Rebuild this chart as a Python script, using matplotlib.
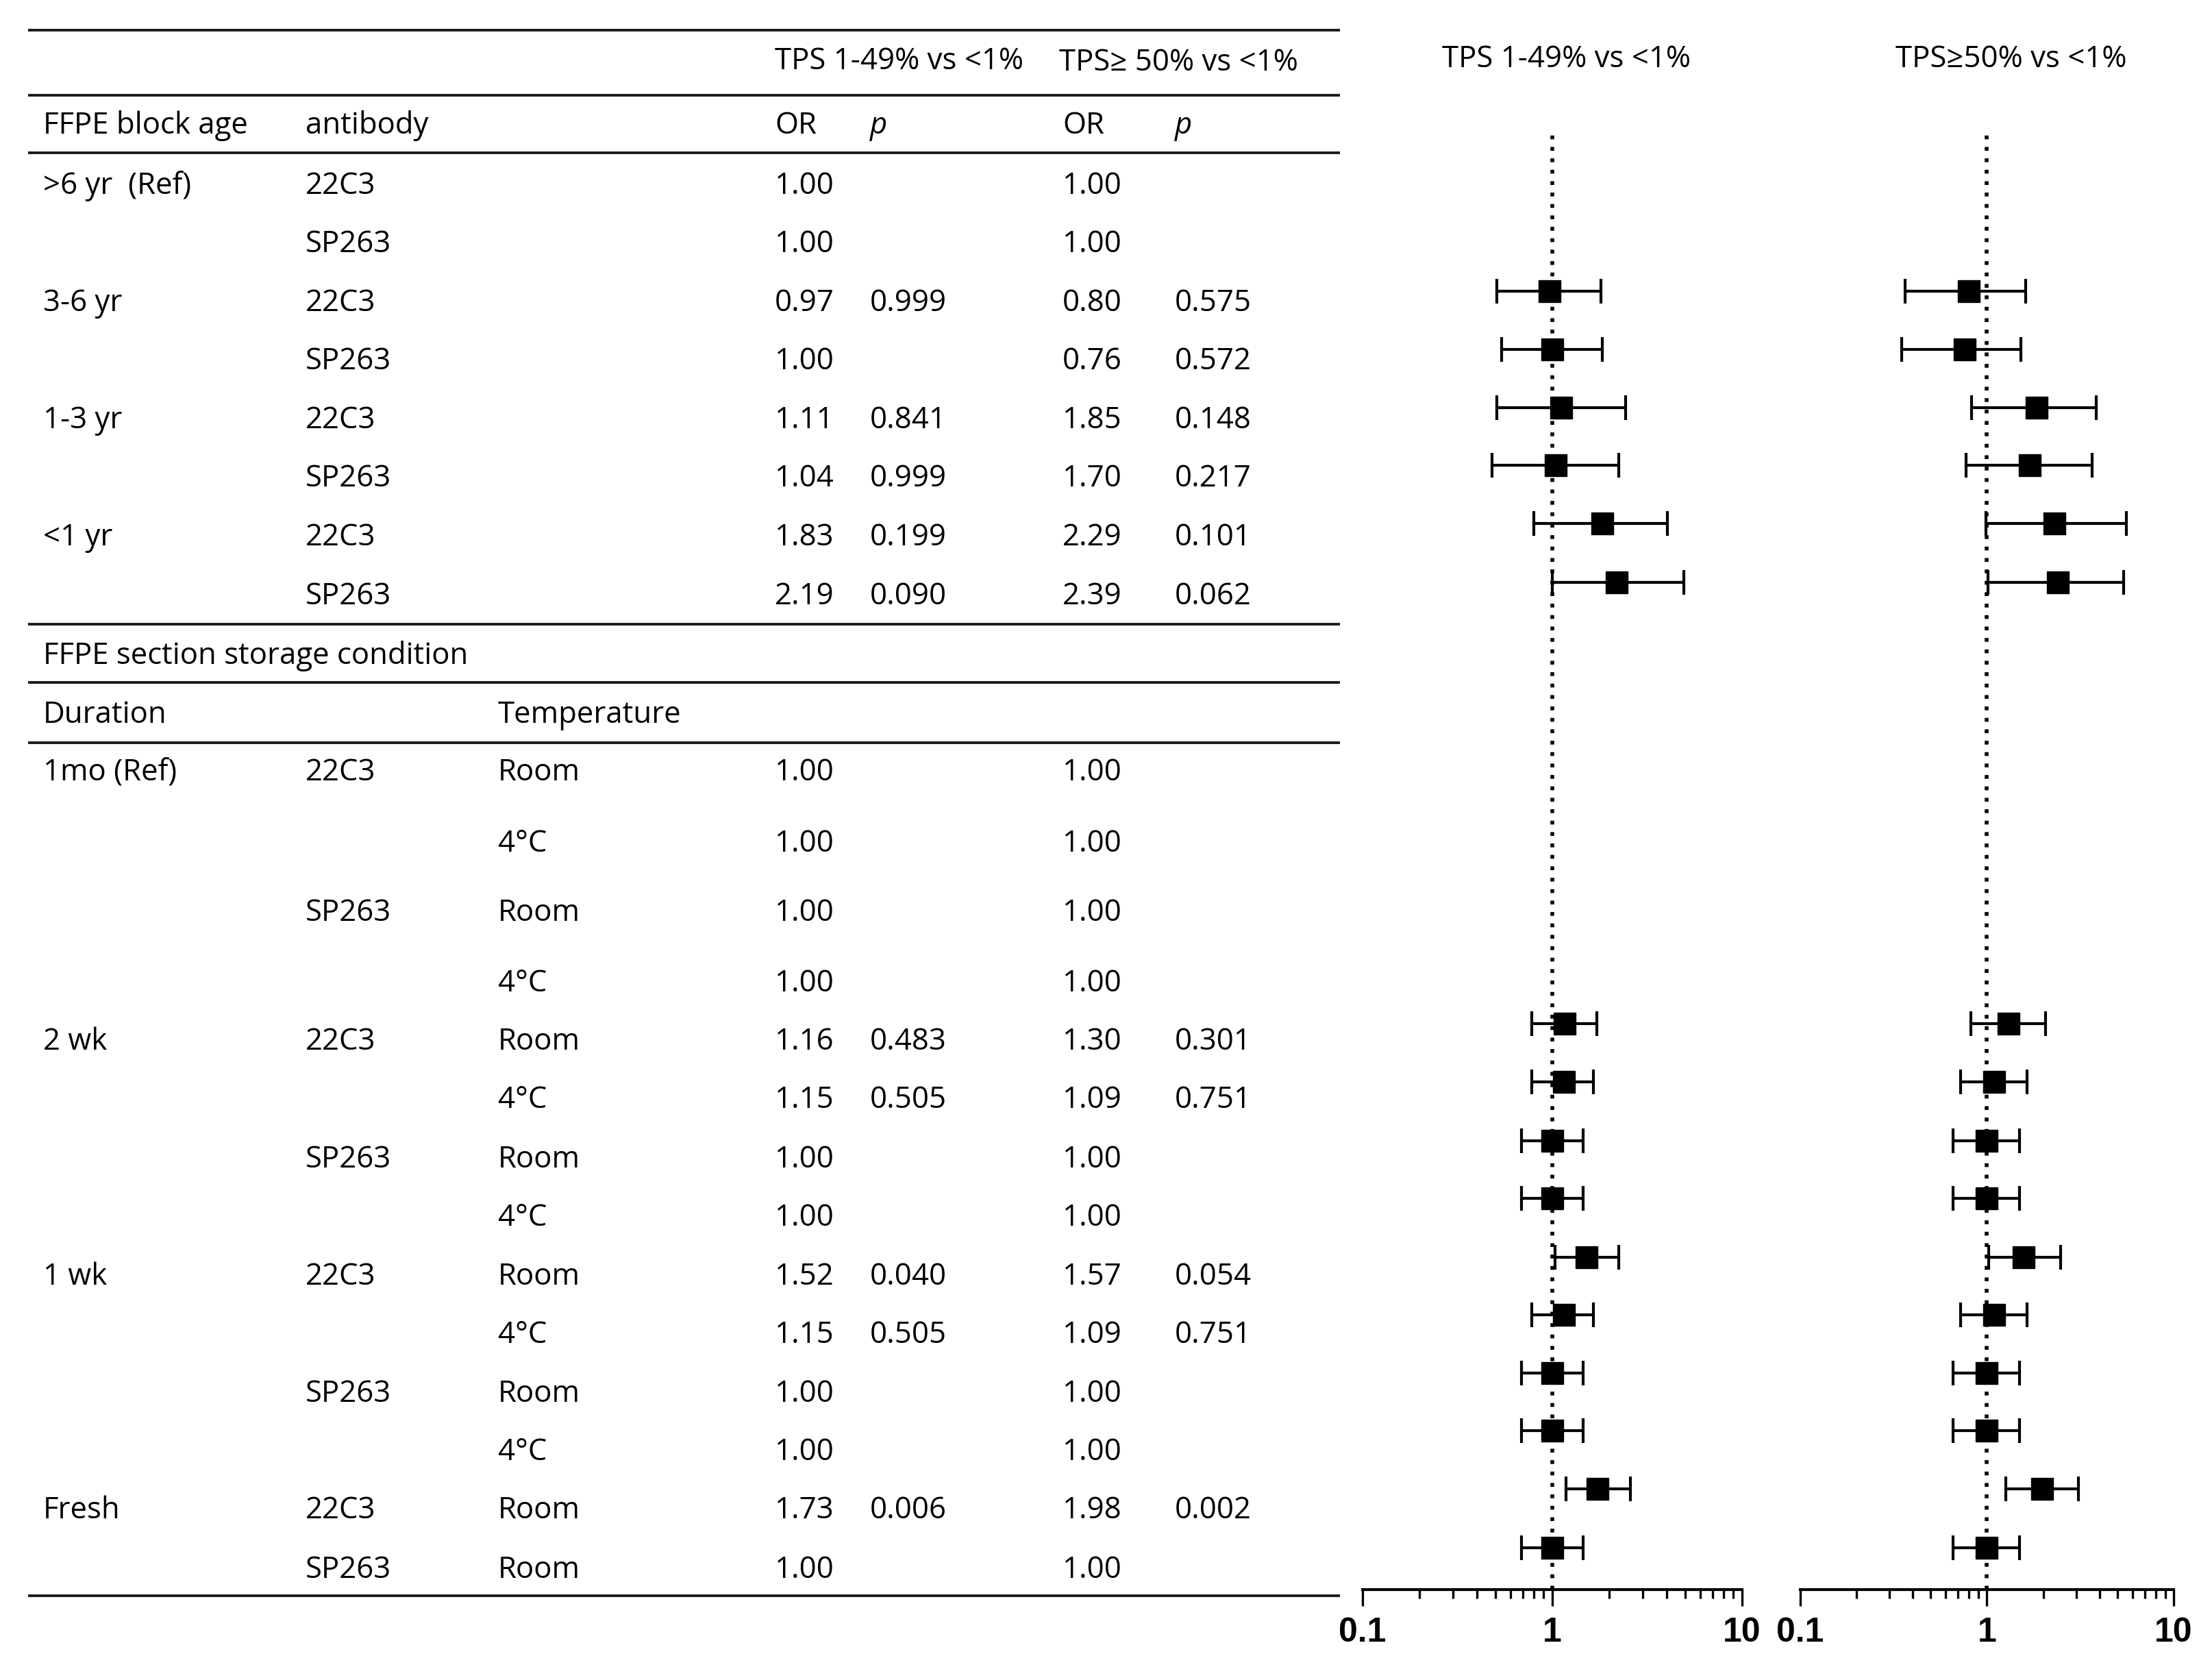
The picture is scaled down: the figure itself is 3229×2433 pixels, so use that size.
import numpy as np
import matplotlib
matplotlib.use("Agg")
import matplotlib.pyplot as plt
from matplotlib.ticker import FixedLocator, FixedFormatter, LogLocator, NullFormatter

plt.rcParams['font.family'] = ['Open Sans', 'DejaVu Sans']

# ---- data: FFPE block age ----
age_group = [">6 yr  (Ref)", "", "3-6 yr", "", "1-3 yr", "", "<1 yr", ""]
age_ab = ["22C3", "SP263", "22C3", "SP263", "22C3", "SP263", "22C3", "SP263"]
age_or1 = [1.00, 1.00, 0.97, 1.00, 1.11, 1.04, 1.83, 2.19]
age_p1 = ["", "", "0.999", "", "0.841", "0.999", "0.199", "0.090"]
age_or2 = [1.00, 1.00, 0.80, 0.76, 1.85, 1.70, 2.29, 2.39]
age_p2 = ["", "", "0.575", "0.572", "0.148", "0.217", "0.101", "0.062"]
age_lo1 = [np.nan, np.nan, 0.51, 0.54, 0.51, 0.48, 0.80, 1.00]
age_hi1 = [np.nan, np.nan, 1.80, 1.83, 2.44, 2.24, 4.05, 4.93]
age_lo2 = [np.nan, np.nan, 0.365, 0.35, 0.83, 0.77, 0.99, 1.01]
age_hi2 = [np.nan, np.nan, 1.61, 1.52, 3.84, 3.66, 5.6, 5.4]

# ---- data: FFPE section storage condition ----
st_dur = ["1mo (Ref)", "", "", "", "2 wk", "", "", "", "1 wk", "", "", "", "Fresh", ""]
st_ab = ["22C3", "", "SP263", "", "22C3", "", "SP263", "", "22C3", "", "SP263", "", "22C3", "SP263"]
st_temp = ["Room", "4°C", "Room", "4°C", "Room", "4°C", "Room", "4°C",
           "Room", "4°C", "Room", "4°C", "Room", "Room"]
st_or1 = [1.00, 1.00, 1.00, 1.00, 1.16, 1.15, 1.00, 1.00, 1.52, 1.15, 1.00, 1.00, 1.73, 1.00]
st_p1 = ["", "", "", "", "0.483", "0.505", "", "", "0.040", "0.505", "", "", "0.006", ""]
st_or2 = [1.00, 1.00, 1.00, 1.00, 1.30, 1.09, 1.00, 1.00, 1.57, 1.09, 1.00, 1.00, 1.98, 1.00]
st_p2 = ["", "", "", "", "0.301", "0.751", "", "", "0.054", "0.751", "", "", "0.002", ""]
st_lo1 = [np.nan] * 4 + [0.78, 0.78, 0.69, 0.69, 1.03, 0.78, 0.69, 0.69, 1.18, 0.69]
st_hi1 = [np.nan] * 4 + [1.71, 1.65, 1.45, 1.45, 2.24, 1.65, 1.45, 1.45, 2.57, 1.45]
st_lo2 = [np.nan] * 4 + [0.82, 0.72, 0.66, 0.66, 1.02, 0.72, 0.66, 0.66, 1.26, 0.66]
st_hi2 = [np.nan] * 4 + [2.06, 1.64, 1.50, 1.50, 2.47, 1.64, 1.50, 1.50, 3.10, 1.50]

titles = ["TPS 1-49% vs <1%", "TPS\u226550% vs <1%"]
tick_vals = [0.1, 1, 10]
tick_text = ["0.1", "1", "10"]

# ---- layout (pixel coordinates of the 3230x2433 canvas) ----
W, H = 3230, 2433
age_y = [272, 357, 443, 528, 614, 699, 785, 871]
st_y = [1128, 1232, 1333, 1436, 1521, 1606, 1693, 1778, 1864, 1949, 2035, 2120, 2205, 2292]
col_x = [63, 446, 727, 1131, 1270, 1551, 1715]
rule_y = [44, 139, 223, 911, 996, 1084, 2329]
FS = 31.5

fig = plt.figure(figsize=(W / 100, H / 100), dpi=100)
tab = fig.add_axes([0, 0, 1, 1])
tab.set_xlim(0, W)
tab.set_ylim(H, 0)
tab.axis('off')

tab.hlines(rule_y, 41, 1956, color='#1a1a1a', lw=2.8)


def txt(x, y, s, **kw):
    tab.text(x, y, s, fontsize=FS, va='center', ha='left', **kw)


# header
txt(col_x[3], 90, "TPS 1-49% vs <1%")
txt(col_x[5] - 5, 92, "TPS\u2265 50% vs <1%")
txt(col_x[0], 184, "FFPE block age")
txt(col_x[1], 184, "antibody")
txt(col_x[3], 184, "OR")
txt(col_x[4], 184, "p", style='italic')
txt(col_x[5], 184, "OR")
txt(col_x[6], 184, "p", style='italic')

for i, y in enumerate(age_y):
    txt(col_x[0], y, age_group[i])
    txt(col_x[1], y, age_ab[i])
    txt(col_x[3], y, "%.2f" % age_or1[i])
    txt(col_x[4], y, age_p1[i])
    txt(col_x[5], y, "%.2f" % age_or2[i])
    txt(col_x[6], y, age_p2[i])

txt(col_x[0], 957, "FFPE section storage condition")
txt(col_x[0], 1044, "Duration")
txt(col_x[2], 1044, "Temperature")

for i, y in enumerate(st_y):
    txt(col_x[0], y, st_dur[i])
    txt(col_x[1], y, st_ab[i])
    txt(col_x[2], y, st_temp[i])
    txt(col_x[3], y, "%.2f" % st_or1[i])
    txt(col_x[4], y, st_p1[i])
    txt(col_x[5], y, "%.2f" % st_or2[i])
    txt(col_x[6], y, st_p2[i])

# ---- forest plots ----
rows_y = np.array(age_y + st_y, dtype=float)
series = [
    (np.array(age_or1 + st_or1), np.array(age_lo1 + st_lo1), np.array(age_hi1 + st_hi1)),
    (np.array(age_or2 + st_or2), np.array(age_lo2 + st_lo2), np.array(age_hi2 + st_hi2)),
]
panels = [(1989, 2543), (2628, 3173)]
title_x = [2287, 2936]
axis_px = 2320
# the plotted rows sit a little higher than the table text in the original
sc, off = 0.9917, -14

for k, (x0, x1) in enumerate(panels):
    ax = fig.add_axes([x0 / W, 0, (x1 - x0) / W, 1])
    ax.set_xscale('log')
    ax.set_xlim(0.1, 10)
    ax.set_ylim((H - off) / sc, -off / sc)
    ax.patch.set_alpha(0)
    for s in ['top', 'left', 'right']:
        ax.spines[s].set_visible(False)
    ax.spines['bottom'].set_position(('axes', 1 - axis_px / H))
    ax.spines['bottom'].set_linewidth(3)
    ax.yaxis.set_visible(False)
    ax.xaxis.set_major_locator(FixedLocator(tick_vals))
    ax.xaxis.set_major_formatter(FixedFormatter(tick_text))
    ax.xaxis.set_minor_locator(LogLocator(base=10, subs=np.arange(2, 10)))
    ax.xaxis.set_minor_formatter(NullFormatter())
    ax.tick_params(axis='x', which='major', length=17, width=2.4, pad=12,
                   labelsize=36, direction='out')
    ax.tick_params(axis='x', which='minor', length=9, width=2.4, direction='out')
    for lab in ax.get_xticklabels():
        lab.set_fontfamily(['Liberation Sans', 'DejaVu Sans'])
        lab.set_fontweight('bold')

    ax.axvline(1, ymin=1 - axis_px / H, ymax=1 - 190 / H, color='black',
               lw=4, ls=(0, (1, 2)))

    orv, lo, hi = series[k]
    m = ~np.isnan(lo)
    ax.errorbar(orv[m], rows_y[m], xerr=[orv[m] - lo[m], hi[m] - orv[m]],
                fmt='s', color='black', ms=23, elinewidth=3, capsize=13,
                capthick=3)

    tab.text(title_x[k], 87, titles[k], fontsize=FS, ha='center', va='center')

fig.savefig("out.png", dpi=100)
